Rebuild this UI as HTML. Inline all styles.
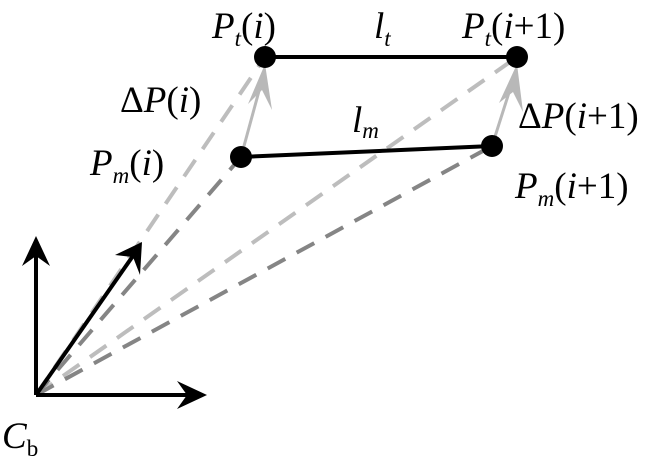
<!DOCTYPE html>
<html><head><style>
html,body{margin:0;padding:0;background:#fff;}
svg{display:block;}
text{font-family:"Liberation Serif","Times New Roman","Noto Serif CJK SC","DejaVu Serif",serif;}
</style></head><body>
<svg width="650" height="469" viewBox="0 0 650 469" font-size="37">
<g stroke-width="4" stroke-dasharray="20 13" fill="none">
<line x1="36" y1="395" x2="265" y2="57" stroke="#bdbdbd"/>
<line x1="36" y1="395" x2="517" y2="57" stroke="#bdbdbd"/>
<line x1="36" y1="395" x2="241" y2="157" stroke="#858585"/>
<line x1="36" y1="395" x2="492" y2="146" stroke="#858585"/>
</g>
<g stroke="#b8b8b8" stroke-width="3" fill="#b8b8b8">
<line x1="241" y1="157" x2="262" y2="80"/>
<polygon points="265,64 272,110 262,90 248,104" stroke="none"/>
<line x1="492" y1="146" x2="513" y2="80"/>
<polygon points="517,64 523,112 513,92 499,103" stroke="none"/>
</g>
<g stroke="#000" stroke-width="4">
<line x1="265" y1="57" x2="517" y2="57"/>
<line x1="241" y1="157" x2="492" y2="146"/>
<line x1="36" y1="395" x2="36" y2="250"/>
<line x1="36" y1="395" x2="195" y2="395"/>
<line x1="36" y1="395" x2="135" y2="253"/>
</g>
<polygon points="36,236 50,266 36,256 22,266" fill="#000"/>
<polygon points="207,395 177,409 187,395 177,381" fill="#000"/>
<polygon points="142,242 140,275 133,257 115,255" fill="#000"/>
<circle cx="265" cy="57" r="11" fill="#000"/>
<circle cx="517" cy="57" r="11" fill="#000"/>
<circle cx="241" cy="157" r="11" fill="#000"/>
<circle cx="492" cy="146" r="11" fill="#000"/>
<text x="212" y="38"><tspan font-style="italic">P</tspan><tspan font-style="italic" font-size="23" dy="8">t</tspan><tspan dy="-8">(</tspan><tspan font-style="italic">i</tspan>)</text>
<text x="374" y="38" font-style="italic">l<tspan font-size="23" dy="8">t</tspan></text>
<text x="462" y="38"><tspan font-style="italic">P</tspan><tspan font-style="italic" font-size="23" dy="8">t</tspan><tspan dy="-8">(</tspan><tspan font-style="italic">i</tspan>+1)</text>
<text x="120" y="112">Δ<tspan font-style="italic">P</tspan>(<tspan font-style="italic">i</tspan>)</text>
<text x="352" y="132" font-style="italic">l<tspan font-size="23" dy="6">m</tspan></text>
<text x="90" y="175"><tspan font-style="italic">P</tspan><tspan font-style="italic" font-size="23" dy="8">m</tspan><tspan dy="-8">(</tspan><tspan font-style="italic">i</tspan>)</text>
<text x="518" y="128">Δ<tspan font-style="italic">P</tspan>(<tspan font-style="italic">i</tspan>+1)</text>
<text x="515" y="198"><tspan font-style="italic">P</tspan><tspan font-style="italic" font-size="23" dy="8">m</tspan><tspan dy="-8">(</tspan><tspan font-style="italic">i</tspan>+1)</text>
<text x="2" y="448"><tspan font-style="italic">C</tspan><tspan font-size="23" dy="8">b</tspan></text>
</svg>
</body></html>
